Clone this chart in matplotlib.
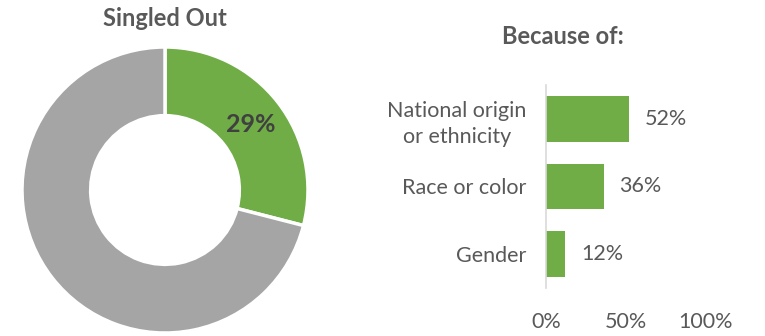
import matplotlib.pyplot as plt

plt.rcParams['font.family'] = ['Lato', 'DejaVu Sans']

# Donut: share singled out
donut_labels = ['Singled out', 'Not singled out']
donut_values = [29, 71]

# Bars: reasons
reasons = ['National origin\nor ethnicity', 'Race or color', 'Gender']
reason_values = [52, 36, 12]
x_ticks = [0, 50, 100]
x_tick_labels = ['0%', '50%', '100%']

GREEN = '#70ad47'
GRAY = '#a5a5a5'
TEXT = '#595959'
FS = 15.5

W, H = 765, 336
fig = plt.figure(figsize=(W / 100, H / 100), dpi=100)

# donut, centred at (165, 190) px with radius 143 px
cx, cy, r = 165, 190, 143
ax1 = fig.add_axes([(cx - r) / W, (H - cy - r) / H, 2 * r / W, 2 * r / H])
ax1.pie(donut_values, colors=[GREEN, GRAY], startangle=90, counterclock=False,
        radius=1, wedgeprops=dict(width=0.48, edgecolor='white', linewidth=2.5))
ax1.set_xlim(-1, 1)
ax1.set_ylim(-1, 1)
ax1.text(0.6, 0.46, f'{donut_values[0]}%', ha='center', va='center',
         fontsize=18, fontweight='bold', color='#404040')
fig.text(cx / W, 1 - 18 / H, 'Singled Out', ha='center', va='center',
         fontsize=17, fontweight='bold', color=TEXT)

# bar chart
ax2 = fig.add_axes([546 / W, 48 / H, 160 / W, 203 / H])
ypos = range(len(reasons))
ax2.barh(ypos, reason_values, height=0.67, color=GREEN)
for y, v in zip(ypos, reason_values):
    ax2.text(v + 10, y, f'{v}%', va='center', ha='left', fontsize=FS, color=TEXT)
ax2.set_xlim(0, 100)
ax2.set_ylim(2.5, -0.5)
ax2.set_yticks(list(ypos))
ax2.set_yticklabels(reasons, fontsize=FS, color=TEXT, multialignment='center',
                    linespacing=1.4)
ax2.set_xticks(x_ticks)
ax2.set_xticklabels(x_tick_labels, fontsize=FS, color=TEXT)
ax2.tick_params(axis='both', length=0)
ax2.tick_params(axis='y', pad=14)
ax2.tick_params(axis='x', pad=17)
for s in ['top', 'right', 'bottom']:
    ax2.spines[s].set_visible(False)
ax2.spines['left'].set_color('#d9d9d9')
ax2.spines['left'].set_linewidth(1.2)
ax2.set_facecolor('none')
fig.text(563 / W, 1 - 36 / H, 'Because of:', ha='center', va='center',
         fontsize=17, fontweight='bold', color=TEXT)

fig.savefig('out.png', dpi=100)
